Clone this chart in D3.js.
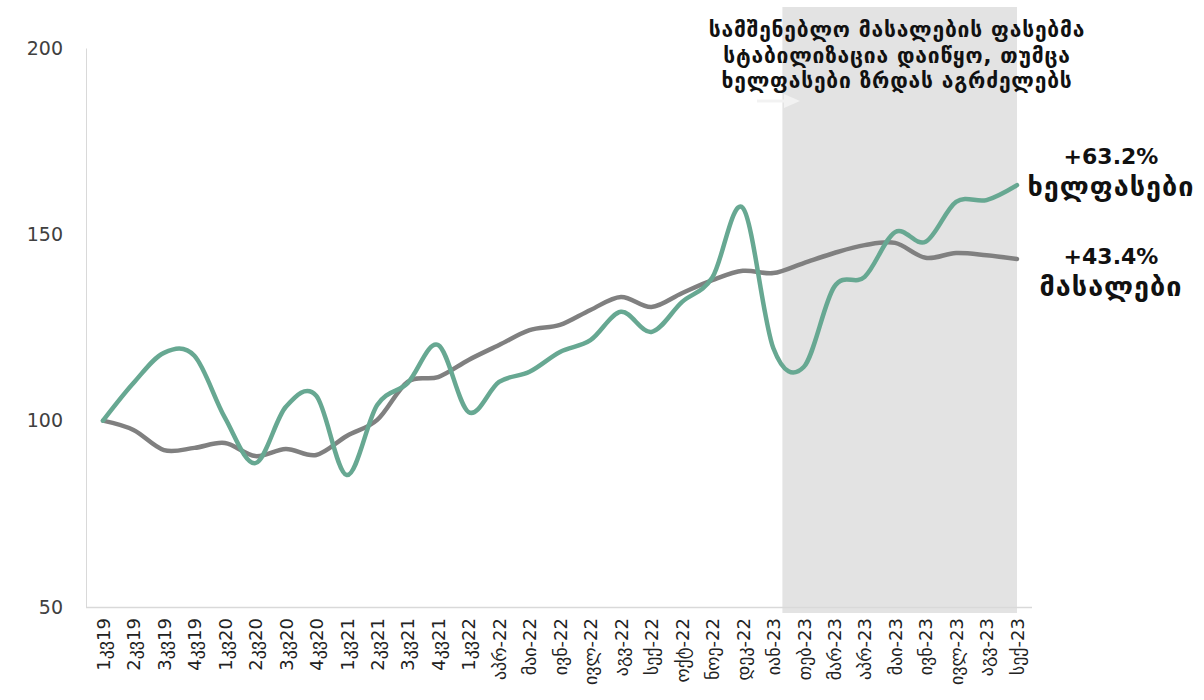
<!DOCTYPE html>
<html><head><meta charset="utf-8">
<script src="https://cdn.jsdelivr.net/npm/d3@7"></script>
<style>
html,body{margin:0;padding:0;background:#fff;}
svg{display:block;}
</style></head>
<body>
<script>
const categories = ["1კვ19","2კვ19","3კვ19","4კვ19","1კვ20","2კვ20","3კვ20","4კვ20","1კვ21","2კვ21","3კვ21","4კვ21","1კვ22",
"აპრ-22","მაი-22","ივნ-22","ივლ-22","აგვ-22","სექ-22","ოქტ-22","ნოე-22","დეკ-22",
"იან-23","თებ-23","მარ-23","აპრ-23","მაი-23","ივნ-23","ივლ-23","აგვ-23","სექ-23"];
const wages = [100,110.1,118.2,117.4,100.8,88.6,103.7,106.7,85.4,104.2,110.1,120.3,102.3,110.4,113.1,118.4,121.6,129.2,123.8,131.8,138.4,157.1,119.5,114.4,135.9,138.6,150.6,148,158.7,159.2,163.2];
const materials = [100,97.5,92.1,92.7,94,90.5,92.4,90.8,95.9,100.2,110.4,111.7,116.3,120.3,124.3,125.7,129.7,133.2,130.5,134.2,137.7,140.2,139.6,142.3,145,147.1,147.7,143.7,145,144.4,143.4];
const yTicks = [50,100,150,200];
const annotation = ["სამშენებლო მასალების ფასებმა","სტაბილიზაცია დაიწყო, თუმცა","ხელფასები ზრდას აგრძელებს"];
const wageLabel = ["+63.2%","ხელფასები"];
const matLabel = ["+43.4%","მასალები"];
const shadeFrom = "იან-23", shadeTo = "სექ-23";

const W=1204,H=700;
const svg=d3.select("body").append("svg").attr("width",W).attr("height",H);
const x=d3.scalePoint().domain(categories).range([103,1017]);
const y=d3.scaleLinear().domain([50,200]).range([607,48]);
const step=x.step();

// shaded region
svg.append("rect").attr("x",x(shadeFrom)+0.3*step).attr("y",7)
  .attr("width",x(shadeTo)-x(shadeFrom)-0.3*step).attr("height",613-7)
  .attr("fill","#e3e3e3");

// faint arrow
svg.append("line").attr("x1",757).attr("x2",786).attr("y1",101).attr("y2",101)
  .attr("stroke","#f2f2f2").attr("stroke-width",3);
svg.append("path").attr("d","M784,94 L800,101 L784,108 Z").attr("fill","#f2f2f2");

// y axis
const ya=svg.append("g").attr("transform","translate(86,0)")
  .call(d3.axisLeft(y).tickValues(yTicks).tickSize(0).tickPadding(23));
ya.select(".domain").attr("stroke","#d9d9d9");
ya.selectAll("text").attr("font-family","DejaVu Sans, sans-serif").attr("font-size","19px").attr("fill","#404040");

// x axis
const xa=svg.append("g").attr("transform","translate(0,607)")
  .call(d3.axisBottom(x).tickSize(0));
xa.select(".domain").remove();
svg.append("line").attr("x1",86).attr("x2",1032).attr("y1",607.5).attr("y2",607.5)
  .attr("stroke","#d9d9d9").attr("stroke-width",1.5);
xa.selectAll("text").attr("font-family","DejaVu Sans, sans-serif").attr("font-size","18px").attr("fill","#222")
  .attr("text-anchor","end").attr("dy","0.35em")
  .attr("transform","translate(0,11) rotate(-90)").attr("x",0).attr("y",0);

// lines
const line=d3.line().x((d,i)=>x(categories[i])).y(d=>y(d)).curve(d3.curveCardinal.tension(0));
svg.append("path").datum(materials).attr("d",line).attr("fill","none")
  .attr("stroke","#808080").attr("stroke-width",4.5).attr("stroke-linecap","round");
svg.append("path").datum(wages).attr("d",line).attr("fill","none")
  .attr("stroke","#67a892").attr("stroke-width",4.5).attr("stroke-linecap","round");

// annotation
const ann=svg.append("text").attr("text-anchor","middle")
  .attr("font-family","DejaVu Sans, sans-serif").attr("font-weight","bold")
  .attr("font-size","21px").attr("letter-spacing","0.8px").attr("fill","#111");
annotation.forEach((t,i)=>ann.append("tspan").attr("x",897).attr("y",37+i*25.5).text(t));

function endLabel(lines,cx,y0){
  const t=svg.append("text").attr("text-anchor","middle")
   .attr("font-family","DejaVu Sans, sans-serif").attr("font-weight","bold")
   .attr("fill","#111");
  lines.forEach((s,i)=>t.append("tspan").attr("x",cx).attr("y",y0+i*32)
     .attr("letter-spacing", i===1?"1px":"0px").attr("font-size", i===1?"27px":"22px").text(s));
}
endLabel(wageLabel,1111,164);
endLabel(matLabel,1111,264);
</script>
</body></html>
